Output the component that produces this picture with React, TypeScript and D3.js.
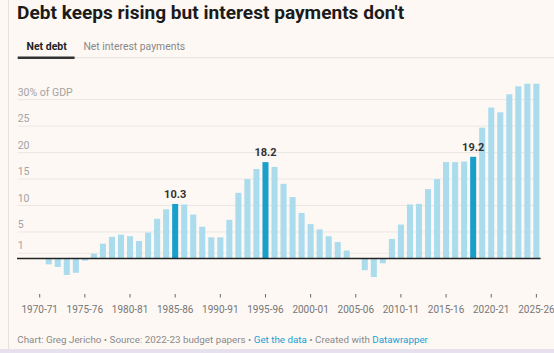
import React from "react";
import * as d3 from "d3";

const title = "Debt keeps rising but interest payments don't";
const tabs = ["Net debt", "Net interest payments"];

const years = [
  "1970-71","1971-72","1972-73","1973-74","1974-75","1975-76","1976-77","1977-78","1978-79","1979-80",
  "1980-81","1981-82","1982-83","1983-84","1984-85","1985-86","1986-87","1987-88","1988-89","1989-90",
  "1990-91","1991-92","1992-93","1993-94","1994-95","1995-96","1996-97","1997-98","1998-99","1999-00",
  "2000-01","2001-02","2002-03","2003-04","2004-05","2005-06","2006-07","2007-08","2008-09","2009-10",
  "2010-11","2011-12","2012-13","2013-14","2014-15","2015-16","2016-17","2017-18","2018-19","2019-20",
  "2020-21","2021-22","2022-23","2023-24","2024-25","2025-26",
];

const netDebt = [
  0, -1.1, -1.6, -3.1, -2.7, -0.4, 0.9, 2.8, 4.1, 4.5,
  4.2, 3.3, 4.9, 7.5, 9.3, 10.3, 10.2, 8.3, 6.0, 4.0,
  4.0, 7.3, 12.4, 15.0, 16.9, 18.2, 17.3, 14.1, 11.6, 8.6,
  6.5, 5.5, 4.2, 3.1, 1.5, 0, -2.2, -3.5, -0.9, 3.7,
  6.4, 10.2, 10.3, 13.1, 15.0, 18.2, 18.2, 18.3, 19.2, 24.7,
  28.5, 27.6, 31.0, 32.5, 33.0, 33.0,
];

const highlighted = ["1985-86", "1995-96", "2018-19"];
const tickYears = ["1970-71","1975-76","1980-81","1985-86","1990-91","1995-96","2000-01","2005-06","2010-11","2015-16","2020-21","2025-26"];
const yTicks = [1, 5, 10, 15, 20, 25, 30];
const yTickLabels = ["1", "5", "10", "15", "20", "25", "30% of GDP"];

const footerParts = [
  { text: "Chart: Greg Jericho • Source: 2022-23 budget papers • ", link: false },
  { text: "Get the data", link: true },
  { text: " • Created with ", link: false },
  { text: "Datawrapper", link: true },
];

const W = 554;
const H = 353;
const FONT = "Roboto, 'Noto Sans', sans-serif";

export default function App() {
  const x = d3.scaleBand<string>().domain(years).range([35.2, 540.9]).paddingInner(0.33).paddingOuter(0.165);
  const y = d3.scaleLinear().domain([0, 30]).range([258.5, 99.6]);
  const gridX0 = 17.7;
  const gridX1 = 539.5;
  const data = years.map((yr, i) => ({ yr, v: netDebt[i] }));

  return (
    <svg width={W} height={H} style={{ position: "absolute", left: 0, top: 0, fontFamily: FONT }}>
      <rect x={0} y={0} width={W} height={H} fill="#fdf8f4" />
      <line x1={8.5} x2={8.5} y1={0} y2={349} stroke="#e6e1dc" strokeWidth={1} />
      <rect x={0} y={349} width={W} height={4} fill="#e7e0ef" />

      <text x={17} y={19.3} fontSize={19.1} fontWeight={700} fill="#1b1b1b">{title}</text>

      <text x={26.5} y={49.5} fontSize={10.5} fontWeight={700} fill="#222">{tabs[0]}</text>
      <text x={83.4} y={49.5} fontSize={10.4} fill="#888">{tabs[1]}</text>
      <line x1={74.6} x2={W} y1={57.8} y2={57.8} stroke="#e4dfda" strokeWidth={1} />
      <rect x={17.7} y={56.5} width={56.9} height={2.5} fill="#333" />

      {yTicks.map((t, i) => (
        <g key={t}>
          <line x1={gridX0} x2={gridX1} y1={y(t)} y2={y(t)} stroke="#ebe7e3" strokeWidth={1} />
          <text x={gridX0} y={y(t) - 4} fontSize={10.5} fill="#a3a3a3">{yTickLabels[i]}</text>
        </g>
      ))}

      {data.map((d) => {
        const hi = highlighted.includes(d.yr);
        const y0 = y(Math.max(0, d.v));
        const h = Math.abs(y(d.v) - y(0));
        return (
          <rect key={d.yr} x={x(d.yr)} y={y0} width={x.bandwidth()} height={h} fill={hi ? "#1a9fcb" : "#aadced"} />
        );
      })}

      {data.filter((d) => highlighted.includes(d.yr)).map((d) => (
        <text key={"l" + d.yr} x={(x(d.yr) as number) + x.bandwidth() / 2} y={y(d.v) - 6} textAnchor="middle" fontSize={11} fontWeight={700} fill="#333">
          {d.v.toFixed(1)}
        </text>
      ))}

      <line x1={17} x2={540.6} y1={y(0)} y2={y(0)} stroke="#222" strokeWidth={1.3} />

      {tickYears.map((t) => {
        const cx = (x(t) as number) + x.bandwidth() / 2;
        return (
          <g key={t}>
            <line x1={cx} x2={cx} y1={294} y2={297.5} stroke="#666" strokeWidth={1} />
            <text x={cx} y={312.5} textAnchor="middle" fontSize={10} fill="#777">{t}</text>
          </g>
        );
      })}

      <text x={17.3} y={342.5} fontSize={9.8} fill="#888">
        {footerParts.map((p, i) => (
          <tspan key={i} fill={p.link ? "#1a9fd3" : "#8a8a8a"}>{p.text}</tspan>
        ))}
      </text>
    </svg>
  );
}
